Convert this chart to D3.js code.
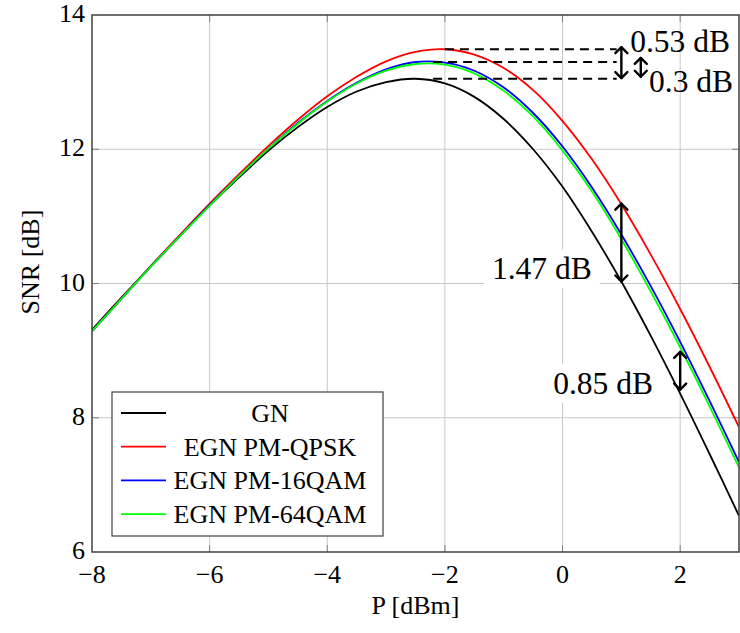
<!DOCTYPE html>
<html>
<head>
<meta charset="utf-8">
<script src="https://cdn.jsdelivr.net/npm/d3@7"></script>
<style>
  body { margin: 0; background: #fff; }
  svg text { font-family: "Liberation Serif", "Times New Roman", serif; fill: #000; }
</style>
</head>
<body>
<div id="chart"></div>
<script>
// datos -------------------------------------------------------------------------------
const potencia = [-8, -7.5, -7, -6.5, -6, -5.5, -5, -4.5, -4, -3.5, -3, -2.5, -2, -1.5, -1, -0.5, 0, 0.5, 1, 1.5, 2, 2.5, 3];
const snrGN     = [9.31, 9.79, 10.26, 10.72, 11.16, 11.58, 11.98, 12.33, 12.63, 12.86, 13.00, 13.05, 12.98, 12.78, 12.45, 12.00, 11.44, 10.77, 10.03, 9.22, 8.36, 7.46, 6.54];
const snrQPSK   = [9.29, 9.78, 10.26, 10.73, 11.19, 11.63, 12.05, 12.44, 12.79, 13.08, 13.31, 13.45, 13.49, 13.41, 13.21, 12.88, 12.42, 11.85, 11.18, 10.43, 9.62, 8.76, 7.86];
const snr16QAM  = [9.29, 9.77, 10.25, 10.71, 11.17, 11.60, 12.01, 12.39, 12.72, 12.99, 13.19, 13.30, 13.29, 13.17, 12.92, 12.54, 12.04, 11.43, 10.73, 9.96, 9.13, 8.25, 7.34];
const snr64QAM  = [9.29, 9.77, 10.25, 10.71, 11.16, 11.60, 12.01, 12.38, 12.71, 12.98, 13.17, 13.27, 13.26, 13.13, 12.87, 12.49, 11.98, 11.37, 10.66, 9.88, 9.05, 8.17, 7.26];

const nombresSeries = ["GN", "EGN PM-QPSK", "EGN PM-16QAM", "EGN PM-64QAM"];
const coloresSeries = ["#000000", "#ff0000", "#0000ff", "#00ff00"];

const ticksX = [-8, -6, -4, -2, 0, 2];
const ticksY = [6, 8, 10, 12, 14];

// picos (lineas punteadas) y flechas
const picos = [
  { x0: -2.0, y: 13.49 },
  { x0: -2.2, y: 13.30 },
  { x0: -2.2, y: 13.05 }
];
const flechas = [
  { x: 1.0, y0: 13.52, y1: 13.06 },
  { x: 1.33, y0: 13.36, y1: 13.08 },
  { x: 1.0, y0: 11.19, y1: 10.03 },
  { x: 2.0, y0: 8.98, y1: 8.42 }
];
const etiquetas = [
  { x: 1.15, y: 13.45, texto: "0.53 dB", fondo: false },
  { x: 1.47, y: 12.86, texto: "0.3 dB", fondo: false },
  { x: -1.2, y: 10.06, texto: "1.47 dB", fondo: true },
  { x: -0.16, y: 8.36, texto: "0.85 dB", fondo: true }
];

// dimensiones ------------------------------------------------------------------------
const WIDTH = 740;
const HEIGHT = 633;
const M = { left: 92, right: 1, top: 15, bottom: 81 };

const SVG = d3.select("#chart").append("svg")
  .attr("width", WIDTH).attr("height", HEIGHT);

const x = d3.scaleLinear().domain([-8, 3]).range([M.left, WIDTH - M.right]);
const y = d3.scaleLinear().domain([6, 14]).range([HEIGHT - M.bottom, M.top]);

// grilla
SVG.append("g").selectAll("line.gx")
  .data(ticksX.slice(1))
  .enter().append("line")
  .attr("x1", d => x(d)).attr("x2", d => x(d))
  .attr("y1", y(6)).attr("y2", y(14))
  .attr("stroke", "#c8c8c8").attr("stroke-width", 1);

SVG.append("g").selectAll("line.gy")
  .data(ticksY.slice(1, -1))
  .enter().append("line")
  .attr("x1", x(-8)).attr("x2", x(3))
  .attr("y1", d => y(d)).attr("y2", d => y(d))
  .attr("stroke", "#c8c8c8").attr("stroke-width", 1);

// ticks hacia adentro
const tickLen = 7;
ticksX.slice(1).forEach(t => {
  SVG.append("line").attr("x1", x(t)).attr("x2", x(t)).attr("y1", y(6)).attr("y2", y(6) - tickLen)
    .attr("stroke", "#808080");
  SVG.append("line").attr("x1", x(t)).attr("x2", x(t)).attr("y1", y(14)).attr("y2", y(14) + tickLen)
    .attr("stroke", "#808080");
});
ticksY.slice(1, -1).forEach(t => {
  SVG.append("line").attr("x1", x(-8)).attr("x2", x(-8) + tickLen).attr("y1", y(t)).attr("y2", y(t))
    .attr("stroke", "#808080");
  SVG.append("line").attr("x1", x(3)).attr("x2", x(3) - tickLen).attr("y1", y(t)).attr("y2", y(t))
    .attr("stroke", "#808080");
});

// etiquetas con fondo blanco (debajo de las curvas)
const gEtiq = SVG.append("g");
etiquetas.forEach(e => {
  const t = gEtiq.append("text")
    .attr("x", x(e.x)).attr("y", y(e.y))
    .attr("font-size", 31.5)
    .text(e.texto);
  if (e.fondo) {
    const b = t.node().getBBox();
    gEtiq.insert("rect", "text")
      .attr("x", b.x - 8).attr("y", b.y - 2)
      .attr("width", b.width + 16).attr("height", b.height + 4)
      .attr("fill", "#fff");
  }
});

// curvas
const datos = [snrGN, snrQPSK, snr16QAM, snr64QAM];
const linea = d3.line()
  .x((d, i) => x(potencia[i]))
  .y(d => y(d))
  .curve(d3.curveCatmullRom.alpha(0.5));

SVG.append("clipPath").attr("id", "clip")
  .append("rect").attr("x", x(-8)).attr("y", y(14)).attr("width", x(3) - x(-8)).attr("height", y(6) - y(14));

SVG.append("g").attr("clip-path", "url(#clip)")
  .selectAll("path.curva")
  .data(datos)
  .enter().append("path")
  .attr("class", "curva")
  .attr("d", d => linea(d))
  .attr("fill", "none")
  .attr("stroke", (d, i) => coloresSeries[i])
  .attr("stroke-width", 1.8);

// lineas punteadas
const xFinPunteada = 0.92;
SVG.selectAll("line.punteada")
  .data(picos)
  .enter().append("line")
  .attr("x1", d => x(d.x0)).attr("x2", x(xFinPunteada))
  .attr("y1", d => y(d.y)).attr("y2", d => y(d.y))
  .attr("stroke", "#000").attr("stroke-width", 1.8)
  .attr("stroke-dasharray", "9,6");

// flechas
const punta = 6;
flechas.forEach(f => {
  const g = SVG.append("g").attr("stroke", "#000").attr("fill", "none")
    .attr("stroke-width", 2.4).attr("stroke-linecap", "round").attr("stroke-linejoin", "round");
  const xa = x(f.x), ya = y(f.y0), yb = y(f.y1);
  g.append("line").attr("x1", xa).attr("x2", xa).attr("y1", ya).attr("y2", yb);
  g.append("path").attr("d", `M${xa - punta},${ya + punta} L${xa},${ya} L${xa + punta},${ya + punta}`);
  g.append("path").attr("d", `M${xa - punta},${yb - punta} L${xa},${yb} L${xa + punta},${yb - punta}`);
});

// marco
SVG.append("rect")
  .attr("x", x(-8)).attr("y", y(14))
  .attr("width", x(3) - x(-8)).attr("height", y(6) - y(14))
  .attr("fill", "none").attr("stroke", "#404040").attr("stroke-width", 1.5);

// etiquetas de ejes
SVG.selectAll("text.tx")
  .data(ticksX)
  .enter().append("text")
  .attr("x", d => x(d)).attr("y", y(6) + 31)
  .attr("text-anchor", "middle").attr("font-size", 26)
  .text(d => d3.format("")(d));

SVG.selectAll("text.ty")
  .data(ticksY)
  .enter().append("text")
  .attr("x", x(-8) - 7).attr("y", d => y(d) + 7)
  .attr("text-anchor", "end").attr("font-size", 26)
  .text(d => d);

SVG.append("text")
  .attr("x", (x(-8) + x(3)) / 2).attr("y", 614)
  .attr("text-anchor", "middle").attr("font-size", 26)
  .text("P [dBm]");

SVG.append("text")
  .attr("transform", "translate(39, 262) rotate(-90)")
  .attr("text-anchor", "middle").attr("font-size", 26)
  .text("SNR [dB]");

// leyenda
const leyenda = SVG.append("g");
leyenda.append("rect")
  .attr("x", 112).attr("y", 392).attr("width", 271).attr("height", 144)
  .attr("fill", "#fff").attr("stroke", "#404040").attr("stroke-width", 1.2);

nombresSeries.forEach((n, i) => {
  const yy = 413 + i * 33.7;
  leyenda.append("line")
    .attr("x1", 121).attr("x2", 166).attr("y1", yy).attr("y2", yy)
    .attr("stroke", coloresSeries[i]).attr("stroke-width", 1.8);
  leyenda.append("text")
    .attr("x", 270).attr("y", yy + 9)
    .attr("text-anchor", "middle").attr("font-size", 26)
    .text(n);
});
</script>
</body>
</html>
